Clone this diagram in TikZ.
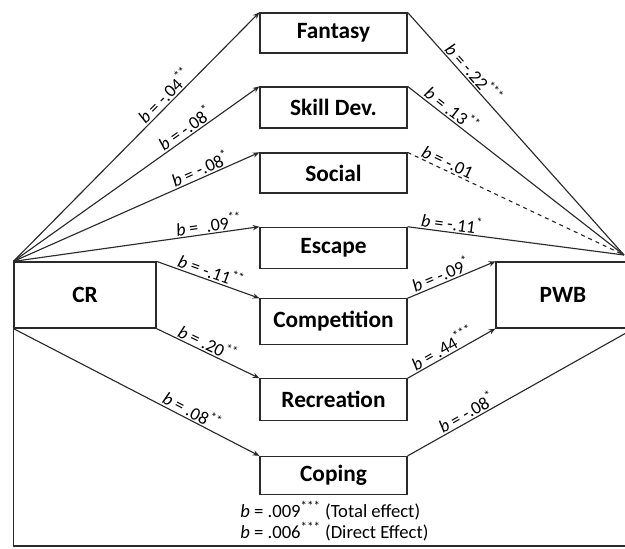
\documentclass[tikz,border=0pt]{standalone}
\usepackage{fontspec}
\setmainfont{Carlito}
\usetikzlibrary{arrows.meta}
\newcommand\blab[2]{\textit{b} = #1\textsuperscript{#2}}
\definecolor{ln}{HTML}{2A2A2A}
\begin{document}
\begin{tikzpicture}[x=0.75pt,y=-0.75pt,
  box/.style={draw=ln,line width=0.9pt,minimum width=110.25pt,inner sep=0pt,font=\fontsize{17.5}{20}\selectfont\bfseries},
  conn/.style={draw=ln,line width=0.85pt},
  arr/.style={conn,-{Stealth[length=5pt,width=4pt]}},
  lab/.style={font=\fontsize{13.5}{15}\selectfont,sloped,inner sep=1pt}]
\useasboundingbox (0,0) rectangle (625,549);
\begin{scope}
\clip (0,0) rectangle (625,549);
% mediators
\node[box,minimum height=30pt] (fan) at (333.5,33) {Fantasy};
\node[box,minimum height=30.75pt] (ski) at (333.5,107.5) {Skill Dev.};
\node[box,minimum height=30pt] (soc) at (333.5,173) {Social};
\node[box,minimum height=31pt] (esc) at (333.5,248) {Escape};
\node[box,minimum height=34pt] (com) at (333.5,321.5) {Competition};
\node[box,minimum height=31pt] (rec) at (333.5,399.5) {Recreation};
\node[box,minimum height=28.5pt] (cop) at (333.5,475.5) {Coping};
% main boxes
\node[box,minimum width=106.5pt,minimum height=49.5pt] (cr) at (85,295) {CR};
\node[box,minimum width=100.5pt,minimum height=49.5pt] (pwb) at (563,295) {PWB};
\coordinate (conv) at (624,255);
\coordinate (cpend) at (626,333);
\coordinate (botR) at (630,546);
% CR -> mediators
\draw[arr] (cr.north west) -- node[lab,above,pos=0.64] {\blab{-.04}{**}} (fan.north west);
\draw[arr] (cr.north west) -- node[lab,above,pos=0.72] {\blab{-.08}{*}} (ski.north west);
\draw[arr] (cr.north west) -- node[lab,above,pos=0.775] {\blab{-.08}{*}} (soc.north west);
\draw[arr] (cr.north west) -- node[lab,above,pos=0.8] {\blab{\ .09}{**}} (esc.north west);
\draw[arr] (cr.north east) -- node[lab,above,pos=0.5] {\blab{-.11}{**}} (com.north west);
\draw[arr] (cr.south east) -- node[lab,above,pos=0.46] {\blab{.20}{**}} (rec.north west);
\draw[arr] (cr.south west) -- node[lab,above,pos=0.71] {\blab{.08}{**}} (cop.north west);
% mediators -> PWB
\draw[conn] (fan.north east) -- node[lab,above,pos=0.275] {\blab{-.22}{***}} (conv);
\draw[conn] (ski.north east) -- node[lab,above,pos=0.18] {\blab{.13}{**}} (conv);
\draw[conn,dashed] (soc.north east) -- node[lab,above,pos=0.17] {\blab{-.01}{}} (conv);
\draw[conn] (esc.north east) -- node[lab,above,pos=0.2] {\blab{-.11}{*}} (conv);
\draw[arr] (com.north east) -- node[lab,above,pos=0.42] {\blab{-.09}{*}} (pwb.north west);
\draw[arr] (rec.north east) -- node[lab,above,pos=0.45] {\blab{.44}{***}} (pwb.south west);
\draw[conn] (cop.north east) -- node[lab,above,pos=0.29] {\blab{-.08}{*}} (cpend);
% direct path
\draw[conn] (cr.south west) |- (botR);
\end{scope}
\node[anchor=west,inner sep=0pt,font=\fontsize{14}{16}\selectfont] (tot) at (240,511) {\blab{.009}{***} (Total effect)};
\node[anchor=west,inner sep=0pt,font=\fontsize{14}{16}\selectfont] (dir) at (240,532) {\blab{.006}{***} (Direct Effect)};
\end{tikzpicture}
\end{document}
